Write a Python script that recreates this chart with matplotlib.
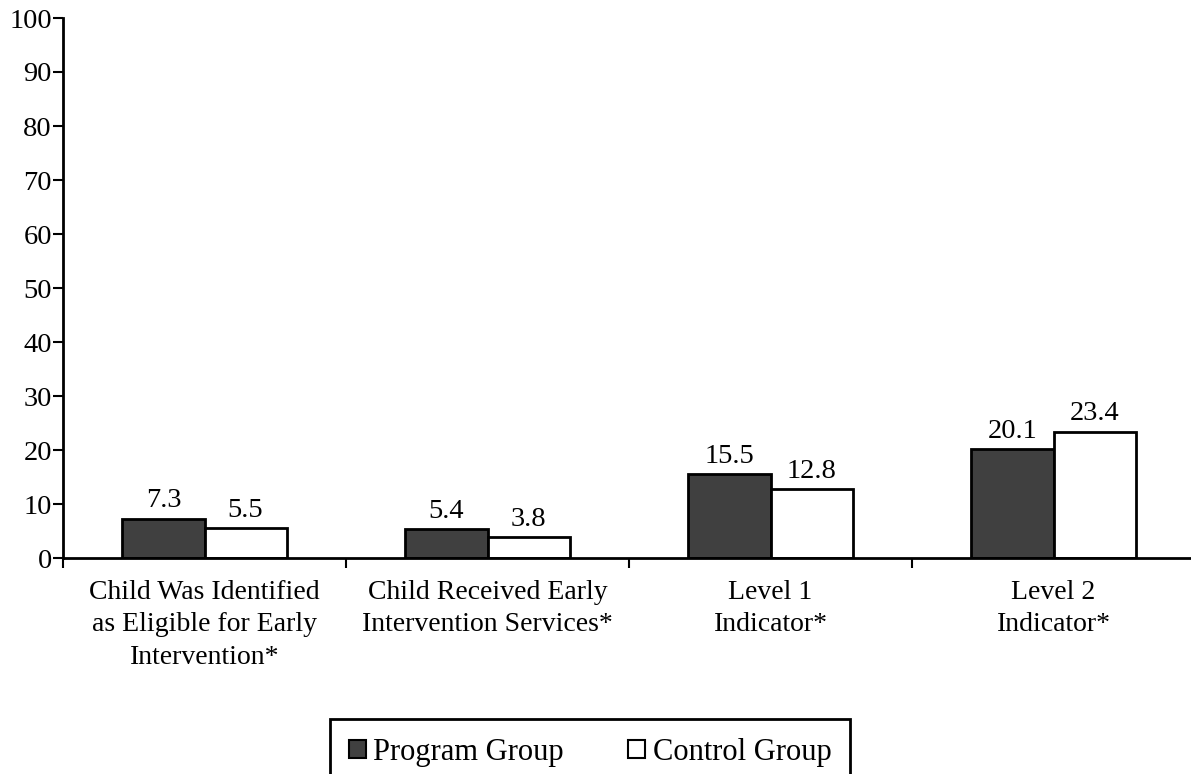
import matplotlib
matplotlib.use("Agg")
import matplotlib.pyplot as plt
import numpy as np

categories = ["Child Was Identified\nas Eligible for Early\nIntervention*",
              "Child Received Early\nIntervention Services*",
              "Level 1\nIndicator*",
              "Level 2\nIndicator*"]
program = [7.3, 5.4, 15.5, 20.1]
control = [5.5, 3.8, 12.8, 23.4]
series_names = ["Program Group", "Control Group"]
yticks = list(range(0, 101, 10))

plt.rcParams['font.family'] = ['Liberation Serif', 'DejaVu Serif']
FS = 20.5

fig = plt.figure(figsize=(11.91, 7.74), dpi=100)
W, H = 1191, 774
ax = fig.add_axes([63 / W, 1 - 558 / H, (1195 - 63) / W, (558 - 18) / H])

x = np.arange(len(categories)) + 0.5
bw = 0.29
b1 = ax.bar(x - bw / 2, program, bw, color="#404040", edgecolor="black", linewidth=2, label=series_names[0])
b2 = ax.bar(x + bw / 2, control, bw, color="white", edgecolor="black", linewidth=2, label=series_names[1])
for bars, vals in ((b1, program), (b2, control)):
    for r, v in zip(bars, vals):
        ax.text(r.get_x() + r.get_width() / 2, v + 2.1, f"{v:.1f}", ha="center", va="baseline", fontsize=FS)

ax.set_xlim(0, len(categories))
ax.set_ylim(0, 100)
ax.set_yticks(yticks)
ax.set_yticklabels([str(t) for t in yticks], fontsize=FS)
ax.set_xticks(np.arange(len(categories) + 1))
ax.set_xticklabels([])
ax.set_xticks(x, minor=True)
ax.set_xticklabels(categories, minor=True, fontsize=20, linespacing=1.38)
ax.tick_params(axis="x", which="minor", length=0, pad=16)
ax.tick_params(axis="x", which="major", length=7, width=1.5, direction="out")
ax.tick_params(axis="y", length=7, width=1.5, direction="out", pad=1)
for s in ("top", "right"):
    ax.spines[s].set_visible(False)
for s in ("left", "bottom"):
    ax.spines[s].set_linewidth(2)

leg = fig.legend(handles=[b1, b2], labels=series_names, loc="upper left",
                 bbox_to_anchor=(330 / W, 1 - 719 / H), ncol=2, fontsize=22,
                 frameon=True, fancybox=False, edgecolor="black", framealpha=1,
                 handlelength=0.55, handleheight=0.55, handletextpad=0.25,
                 columnspacing=2.1, borderpad=0.62, borderaxespad=0)
leg.get_frame().set_linewidth(2)
for p in leg.get_patches():
    p.set_linewidth(1.5)

fig.savefig("out.png", dpi=100)
